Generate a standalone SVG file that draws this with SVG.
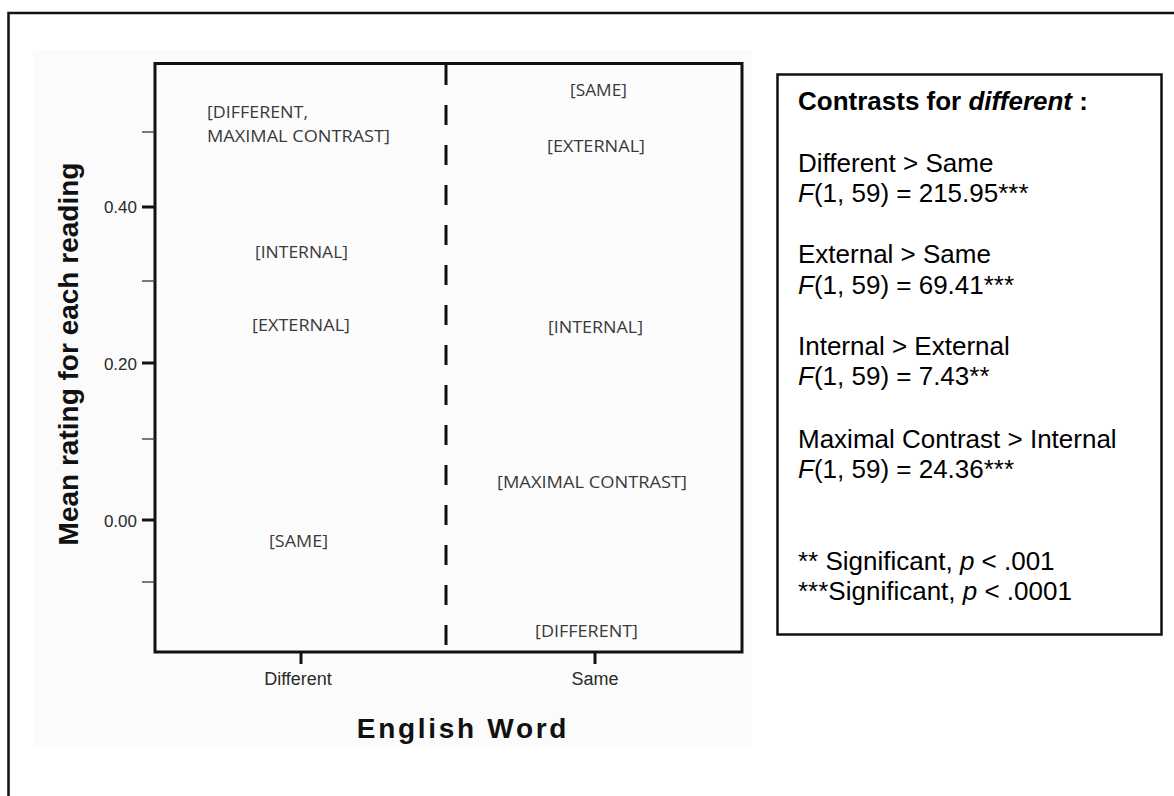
<svg xmlns="http://www.w3.org/2000/svg" width="1174" height="796" viewBox="0 0 1174 796">
<style>
.lab{font-family:"Open Sans","Liberation Sans",sans-serif;font-size:17px;fill:#3a3a3a}
.tick{font-family:"Liberation Sans",Arial,sans-serif;font-size:17px;fill:#2a2a2a}
.xt{font-family:"Liberation Sans",Arial,sans-serif;font-size:18px;fill:#2a2a2a;text-anchor:middle}
.title{font-family:"Liberation Sans",Arial,sans-serif;font-size:28px;font-weight:bold;fill:#111;text-anchor:middle}
.lg{font-family:"Liberation Sans",Arial,sans-serif;font-size:26px;fill:#000}
.maj{stroke:#111;stroke-width:3}
.min{stroke:#333;stroke-width:1.3}
</style>
<rect width="1174" height="796" fill="#fff"/>
<path d="M8.5 800 V13 H1180" fill="none" stroke="#111" stroke-width="2.5"/>
<g id="chart">
<rect x="33" y="50" width="719" height="698" fill="#fbfbfb"/>
<rect x="155" y="63.5" width="587" height="588.5" fill="#fcfcfc" stroke="#111" stroke-width="3"/>
<g id="axes">
<line class="min" x1="142" y1="132" x2="155" y2="132"/>
<line class="maj" x1="142" y1="207" x2="155" y2="207"/>
<line class="min" x1="142" y1="281" x2="155" y2="281"/>
<line class="maj" x1="142" y1="363" x2="155" y2="363"/>
<line class="min" x1="142" y1="439" x2="155" y2="439"/>
<line class="maj" x1="142" y1="520" x2="155" y2="520"/>
<line class="min" x1="142" y1="582" x2="155" y2="582"/>
<line class="maj" x1="301" y1="652" x2="301" y2="664"/>
<line class="maj" x1="595" y1="652" x2="595" y2="664"/>
<text class="tick" x="137" y="213" text-anchor="end">0.40</text>
<text class="tick" x="137" y="369.5" text-anchor="end">0.20</text>
<text class="tick" x="137" y="527" text-anchor="end">0.00</text>
<text class="xt" x="298" y="685">Different</text>
<text class="xt" x="595" y="685">Same</text>
<text class="title" transform="translate(78 354) rotate(-90)" font-size="30">Mean rating for each reading</text>
<text class="title" x="463" y="738" letter-spacing="2.7">English Word</text>
</g>
<line id="divider" x1="446" y1="65" x2="446" y2="650" stroke="#111" stroke-width="3" stroke-dasharray="20 20"/>
<g id="labels-different">
<text class="lab" x="207" y="118" textLength="101" lengthAdjust="spacingAndGlyphs">[DIFFERENT,</text>
<text class="lab" x="207" y="141.5" textLength="183" lengthAdjust="spacingAndGlyphs">MAXIMAL CONTRAST]</text>
<text class="lab" x="255" y="257.5" textLength="93" lengthAdjust="spacingAndGlyphs">[INTERNAL]</text>
<text class="lab" x="252" y="331" textLength="98" lengthAdjust="spacingAndGlyphs">[EXTERNAL]</text>
<text class="lab" x="269" y="547" textLength="59" lengthAdjust="spacingAndGlyphs">[SAME]</text>
</g>
<g id="labels-same">
<text class="lab" x="570" y="95.5" textLength="57" lengthAdjust="spacingAndGlyphs">[SAME]</text>
<text class="lab" x="547" y="152" textLength="98" lengthAdjust="spacingAndGlyphs">[EXTERNAL]</text>
<text class="lab" x="548" y="333" textLength="95" lengthAdjust="spacingAndGlyphs">[INTERNAL]</text>
<text class="lab" x="497" y="488" textLength="190" lengthAdjust="spacingAndGlyphs">[MAXIMAL CONTRAST]</text>
<text class="lab" x="535" y="637" textLength="103" lengthAdjust="spacingAndGlyphs">[DIFFERENT]</text>
</g>
</g>
<g id="legend">
<rect x="777.5" y="74.5" width="384" height="560" fill="#fff" stroke="#111" stroke-width="2.5"/>
<text class="lg" x="798" y="110" font-weight="bold">Contrasts for <tspan font-style="italic">different</tspan> :</text>
<text class="lg" x="798" y="172">Different &gt; Same</text>
<text class="lg" x="798" y="202"><tspan font-style="italic">F</tspan>(1, 59) = 215.95***</text>
<text class="lg" x="798" y="263">External &gt; Same</text>
<text class="lg" x="798" y="294"><tspan font-style="italic">F</tspan>(1, 59) = 69.41***</text>
<text class="lg" x="798" y="355">Internal &gt; External</text>
<text class="lg" x="798" y="385"><tspan font-style="italic">F</tspan>(1, 59) = 7.43**</text>
<text class="lg" x="798" y="448">Maximal Contrast &gt; Internal</text>
<text class="lg" x="798" y="478"><tspan font-style="italic">F</tspan>(1, 59) = 24.36***</text>
<text class="lg" x="798" y="570">** Significant, <tspan font-style="italic">p</tspan> &lt; .001</text>
<text class="lg" x="798" y="600">***Significant, <tspan font-style="italic">p</tspan> &lt; .0001</text>
</g>
</svg>
